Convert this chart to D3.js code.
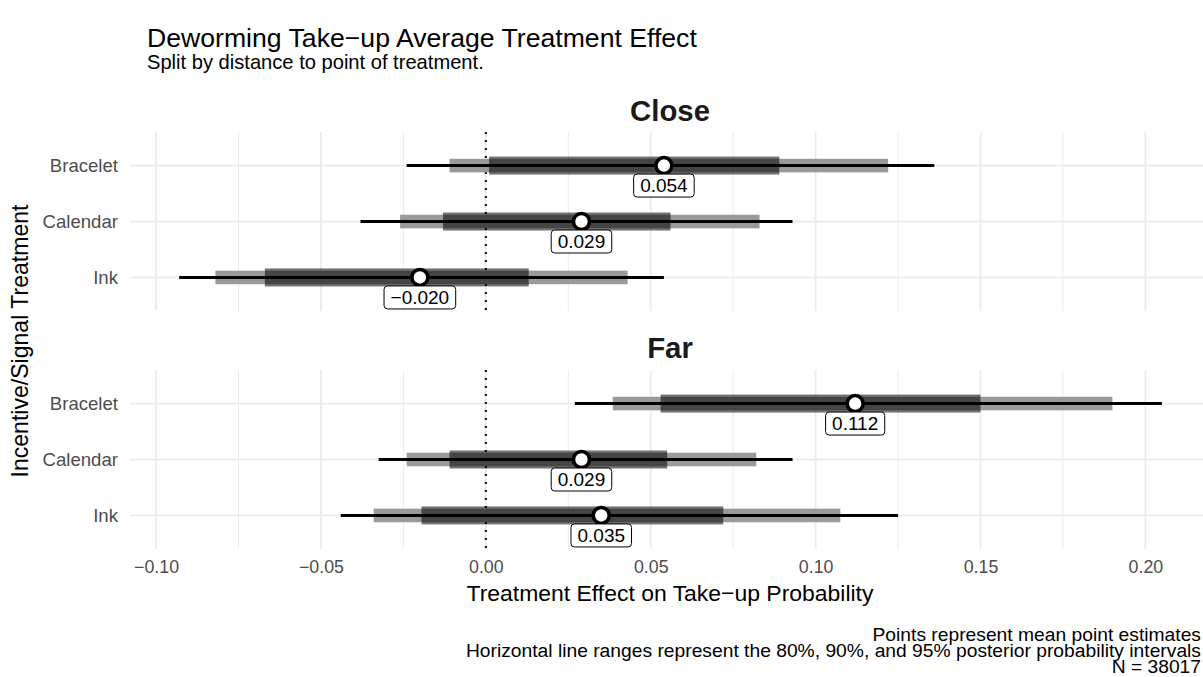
<!DOCTYPE html>
<html>
<head>
<meta charset="utf-8">
<script src="https://cdn.jsdelivr.net/npm/d3@7"></script>
<style>
  html, body { margin: 0; padding: 0; background: #ffffff; }
  svg { display: block; font-family: "Liberation Sans", Arial, Helvetica, sans-serif; }
</style>
</head>
<body>
<svg id="chart" width="1203" height="677"></svg>
<script>
// ---------------- data ----------------
const groups = ["Close", "Far"];
const categories = ["Bracelet", "Calendar", "Ink"];
const xTicks = [-0.10, -0.05, 0.00, 0.05, 0.10, 0.15, 0.20];
const xMinorTicks = [-0.075, -0.025, 0.025, 0.075, 0.125, 0.175];

// mean estimates (Bracelet, Calendar, Ink)
const meanClose = [0.054, 0.029, -0.020];
const meanFar   = [0.112, 0.029, 0.035];

// 95% intervals
const lo95Close = [-0.024, -0.038, -0.093];
const hi95Close = [0.136, 0.093, 0.054];
const lo95Far   = [0.027, -0.0325, -0.044];
const hi95Far   = [0.205, 0.093, 0.125];

// 90% intervals
const lo90Close = [-0.011, -0.026, -0.082];
const hi90Close = [0.122, 0.083, 0.043];
const lo90Far   = [0.0385, -0.024, -0.034];
const hi90Far   = [0.190, 0.082, 0.1075];

// 80% intervals
const lo80Close = [0.001, -0.013, -0.067];
const hi80Close = [0.089, 0.056, 0.013];
const lo80Far   = [0.053, -0.011, -0.0195];
const hi80Far   = [0.150, 0.055, 0.072];

const titleText = "Deworming Take\u2212up Average Treatment Effect";
const subtitleText = "Split by distance to point of treatment.";
const xTitleText = "Treatment Effect on Take\u2212up Probability";
const yTitleText = "Incentive/Signal Treatment";
const captionLines = [
  "Points represent mean point estimates",
  "Horizontal line ranges represent the 80%, 90%, and 95% posterior probability intervals",
  "N = 38017"
];

// -------------- build rows ---------------
const table = [];
const src = {
  Close: {m: meanClose, l95: lo95Close, h95: hi95Close, l90: lo90Close, h90: hi90Close, l80: lo80Close, h80: hi80Close},
  Far:   {m: meanFar,   l95: lo95Far,   h95: hi95Far,   l90: lo90Far,   h90: hi90Far,   l80: lo80Far,   h80: hi80Far}
};
groups.forEach(g => {
  categories.forEach((c, i) => {
    const s = src[g];
    table.push({group: g, cat: c, mean: s.m[i], l95: s.l95[i], h95: s.h95[i],
                l90: s.l90[i], h90: s.h90[i], l80: s.l80[i], h80: s.h80[i]});
  });
});

// -------------- layout ---------------
const svg = d3.select("#chart");
const FONT = "'Liberation Sans', Arial, Helvetica, sans-serif";
const panelLeft = 130, panelRight = 1211;
const panels = {
  Close: {top: 132, bottom: 311, strip: 110},
  Far:   {top: 370, bottom: 549, strip: 347}
};

const allLo = d3.min(table, d => d.l95), allHi = d3.max(table, d => d.h95);
const pad = (allHi - allLo) * 0.05;
const x = d3.scaleLinear().domain([allLo - pad, allHi + pad]).range([panelLeft, panelRight]);

function fitWidth(sel, target) {
  const w = sel.node().getComputedTextLength();
  const fs = parseFloat(sel.attr("font-size"));
  sel.attr("font-size", (fs * target / w).toFixed(2));
  return fs * target / w;
}

const fmt = d3.format(".3f");

groups.forEach(g => {
  const P = panels[g];
  const y = d3.scalePoint().domain(categories).range([P.top, P.bottom]).padding(0.6);
  const gp = svg.append("g").attr("class", "panel-" + g);
  const rows = table.filter(d => d.group === g);

  // minor grid
  gp.selectAll("line.minor").data(xMinorTicks).join("line")
    .attr("x1", d => x(d)).attr("x2", d => x(d))
    .attr("y1", P.top).attr("y2", P.bottom)
    .attr("stroke", "#ebebeb").attr("stroke-width", 1);
  // major grid
  gp.selectAll("line.major").data(xTicks).join("line")
    .attr("x1", d => x(d)).attr("x2", d => x(d))
    .attr("y1", P.top).attr("y2", P.bottom)
    .attr("stroke", "#ebebeb").attr("stroke-width", 1.8);
  gp.selectAll("line.hgrid").data(categories).join("line")
    .attr("x1", panelLeft).attr("x2", panelRight)
    .attr("y1", d => y(d)).attr("y2", d => y(d))
    .attr("stroke", "#ebebeb").attr("stroke-width", 1.8);

  // y-axis via d3 axis
  const yAxis = gp.append("g").attr("transform", `translate(${panelLeft},0)`)
    .call(d3.axisLeft(y).tickSize(0).tickPadding(12));
  yAxis.select(".domain").remove();
  yAxis.selectAll("text").attr("fill", "#4d4d4d").attr("font-family", FONT).attr("font-size", 18.6);

  // dotted zero line
  gp.append("line")
    .attr("x1", x(0)).attr("x2", x(0)).attr("y1", P.top).attr("y2", P.bottom)
    .attr("stroke", "#000").attr("stroke-width", 2).attr("stroke-dasharray", "2,6");

  // 90% band (light)
  gp.selectAll("rect.b90").data(rows).join("rect")
    .attr("x", d => x(d.l90)).attr("width", d => x(d.h90) - x(d.l90))
    .attr("y", d => y(d.cat) - 6.8).attr("height", 13.6)
    .attr("fill", "#9a9a9a");
  // 80% band (dark)
  gp.selectAll("rect.b80").data(rows).join("rect")
    .attr("x", d => x(d.l80)).attr("width", d => x(d.h80) - x(d.l80))
    .attr("y", d => y(d.cat) - 9).attr("height", 18)
    .attr("fill", "#000").attr("fill-opacity", 0.55);
  // 95% line
  gp.selectAll("line.l95").data(rows).join("line")
    .attr("x1", d => x(d.l95)).attr("x2", d => x(d.h95))
    .attr("y1", d => y(d.cat)).attr("y2", d => y(d.cat))
    .attr("stroke", "#000").attr("stroke-width", 3);
  // points
  gp.selectAll("circle.pt").data(rows).join("circle")
    .attr("cx", d => x(d.mean)).attr("cy", d => y(d.cat)).attr("r", 8)
    .attr("fill", "#fff").attr("stroke", "#000").attr("stroke-width", 3.6);
  // labels
  rows.forEach(d => {
    const lg = gp.append("g");
    const cx = x(d.mean), cy = y(d.cat) + 20;
    const rect = lg.append("rect");
    const t = lg.append("text").attr("x", cx).attr("y", cy).attr("dy", "0.36em")
      .attr("text-anchor", "middle").attr("font-family", FONT).attr("font-size", 19)
      .attr("fill", "#000").text(fmt(d.mean));
    const w = t.node().getComputedTextLength() + 13;
    rect.attr("x", cx - w / 2).attr("y", cy - 11.5).attr("width", w).attr("height", 23)
      .attr("rx", 3.5).attr("ry", 3.5)
      .attr("fill", "#fff").attr("stroke", "#000").attr("stroke-width", 1);
  });

  // strip title
  svg.append("text").attr("class", "strip").attr("x", 670).attr("y", P.strip).attr("dy", "0.36em")
    .attr("text-anchor", "middle").attr("font-family", FONT).attr("font-weight", "bold")
    .attr("font-size", 24).attr("fill", "#1a1a1a").text(g);
});

// fit strip titles to target width of "Close"
{
  const sts = svg.selectAll("text.strip").filter(function(){ return this.textContent === "Close"; });
  const fs = fitWidth(sts, 80);
  svg.selectAll("text.strip").attr("font-size", fs.toFixed(2));
}

// x-axis
const xAxis = svg.append("g").attr("transform", `translate(0,${panels.Far.bottom})`)
  .call(d3.axisBottom(x).tickValues(xTicks).tickSize(0).tickPadding(11)
    .tickFormat(d => d3.format(".2f")(d)));
xAxis.select(".domain").remove();
xAxis.selectAll("text").attr("fill", "#4d4d4d").attr("font-family", FONT).attr("font-size", 17.8);

// x title
const xt = svg.append("text").attr("x", 670).attr("y", 593).attr("dy", "0.36em")
  .attr("text-anchor", "middle").attr("font-family", FONT).attr("font-size", 20)
  .attr("fill", "#000").text(xTitleText);
fitWidth(xt, 407);

// y title
const yt = svg.append("text").attr("transform", "translate(20,341) rotate(-90)").attr("dy", "0.36em")
  .attr("text-anchor", "middle").attr("font-family", FONT).attr("font-size", 20)
  .attr("fill", "#000").text(yTitleText);
fitWidth(yt, 273);

// title & subtitle
const tt = svg.append("text").attr("x", 147).attr("y", 37).attr("dy", "0.36em")
  .attr("font-family", FONT).attr("font-size", 22).attr("fill", "#000").text(titleText);
fitWidth(tt, 550);
const stt = svg.append("text").attr("x", 147).attr("y", 62).attr("dy", "0.36em")
  .attr("font-family", FONT).attr("font-size", 17).attr("fill", "#000").text(subtitleText);
fitWidth(stt, 337);

// caption (right aligned at the right edge)
{
  const right = 1201;
  const probe = svg.append("text").attr("font-family", FONT).attr("font-size", 100).text(captionLines[1]);
  const wb = probe.node().getComputedTextLength();
  probe.remove();
  const fs = 100 * (right - 466) / wb;
  const ys = [634, 650, 666];
  captionLines.forEach((line, i) => {
    svg.append("text").attr("x", right).attr("y", ys[i]).attr("dy", "0.36em")
      .attr("text-anchor", "end").attr("font-family", FONT).attr("font-size", fs.toFixed(2))
      .attr("fill", "#000").text(line);
  });
}
</script>
</body>
</html>
